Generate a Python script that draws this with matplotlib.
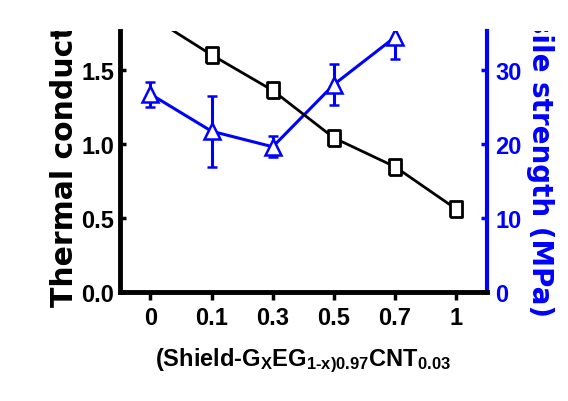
import matplotlib
matplotlib.use('Agg')
import matplotlib.pyplot as plt
from matplotlib.transforms import Bbox, TransformedBbox

# data
compositions = ['0', '0.1', '0.3', '0.5', '0.7', '1']
thermal_cond = [1.86, 1.60, 1.36, 1.04, 0.845, 0.56]
tensile = [26.7, 21.7, 19.6, 28.0, 34.4]
tensile_err = [1.7, 4.8, 1.4, 2.8, 3.0]
left_ticks = [0.0, 0.5, 1.0, 1.5]
right_ticks = [0, 10, 20, 30]

BLUE = '#0000ff'

plt.rcParams['font.family'] = ['Liberation Sans', 'DejaVu Sans']
plt.rcParams['font.weight'] = 'bold'
plt.rcParams['mathtext.fontset'] = 'custom'
plt.rcParams['mathtext.rm'] = 'Liberation Sans:bold'
plt.rcParams['mathtext.it'] = 'Liberation Sans:bold'
plt.rcParams['mathtext.bf'] = 'Liberation Sans:bold'

fig = plt.figure(figsize=(5.68, 4.02), dpi=100)
ax = fig.add_axes([0.211, 0.271, 0.646, 0.649])
ax2 = ax.twinx()

xpos = list(range(len(compositions)))

# thermal conductivity (black squares)
rect = [(-0.37, -0.5), (0.37, -0.5), (0.37, 0.5), (-0.37, 0.5), (-0.37, -0.5)]
ax.plot(xpos, thermal_cond, color='black', lw=2.0, marker=rect, ms=11,
        mfc='white', mec='black', mew=2.0, zorder=3)

# tensile strength (blue triangles)
ax2.errorbar(xpos[:len(tensile)], tensile, yerr=tensile_err, color=BLUE, lw=2.2,
             marker='^', ms=11, mfc='white', mec=BLUE, mew=1.8,
             ecolor=BLUE, elinewidth=2.2, capsize=3.5, capthick=2.2)

ax.set_zorder(ax2.get_zorder() + 1)
ax.patch.set_visible(False)

ax.set_xlim(-0.5, 5.5)
ax.set_ylim(0, 1.76)
ax2.set_ylim(0, 35.2)

ax.set_xticks(xpos)
ax.set_xticklabels(compositions)
ax.set_yticks(left_ticks)
ax.set_yticklabels(['%.1f' % v for v in left_ticks])
ax2.set_yticks(right_ticks)
ax2.set_yticklabels([str(v) for v in right_ticks])

for a in (ax, ax2):
    for s in a.spines.values():
        s.set_visible(False)
ax.spines['left'].set_visible(True)
ax.spines['left'].set_linewidth(3.5)
ax.spines['bottom'].set_visible(True)
ax.spines['bottom'].set_linewidth(3.5)
ax2.spines['right'].set_visible(True)
ax2.spines['right'].set_linewidth(3)
ax2.spines['right'].set_color(BLUE)

ax.tick_params(axis='x', direction='out', length=6, width=2.5, pad=4, labelsize=17)
ax.tick_params(axis='y', direction='in', length=4, width=2.5, pad=4, labelsize=17)
ax2.tick_params(axis='y', direction='in', length=4, width=2.5, pad=6, labelsize=17,
                colors=BLUE)

ax.set_xlabel(r'$\mathrm{(Shield\text{-}G_{X}EG_{1\text{-}x)0.97}CNT_{0.03}}$',
              fontsize=17, labelpad=12)

# axis titles, cut off at the top of the plot like the reference
clip = TransformedBbox(Bbox([[0, 0], [1, 0.92]]), fig.transFigure)
t1 = fig.text(0.114, 0.236, 'Thermal conductivity (W/mK)', rotation=90,
              ha='center', va='bottom', fontsize=21.5, fontweight='bold',
              family='DejaVu Sans')
t2 = fig.text(0.951, 0.211, 'Tensile strength (MPa)', rotation=270,
              ha='center', va='bottom', fontsize=20, fontweight='bold',
              family='DejaVu Sans', color=BLUE)
for t in (t1, t2):
    t.set_clip_box(clip)
    t.set_clip_on(True)

fig.savefig('out.png', dpi=100)
